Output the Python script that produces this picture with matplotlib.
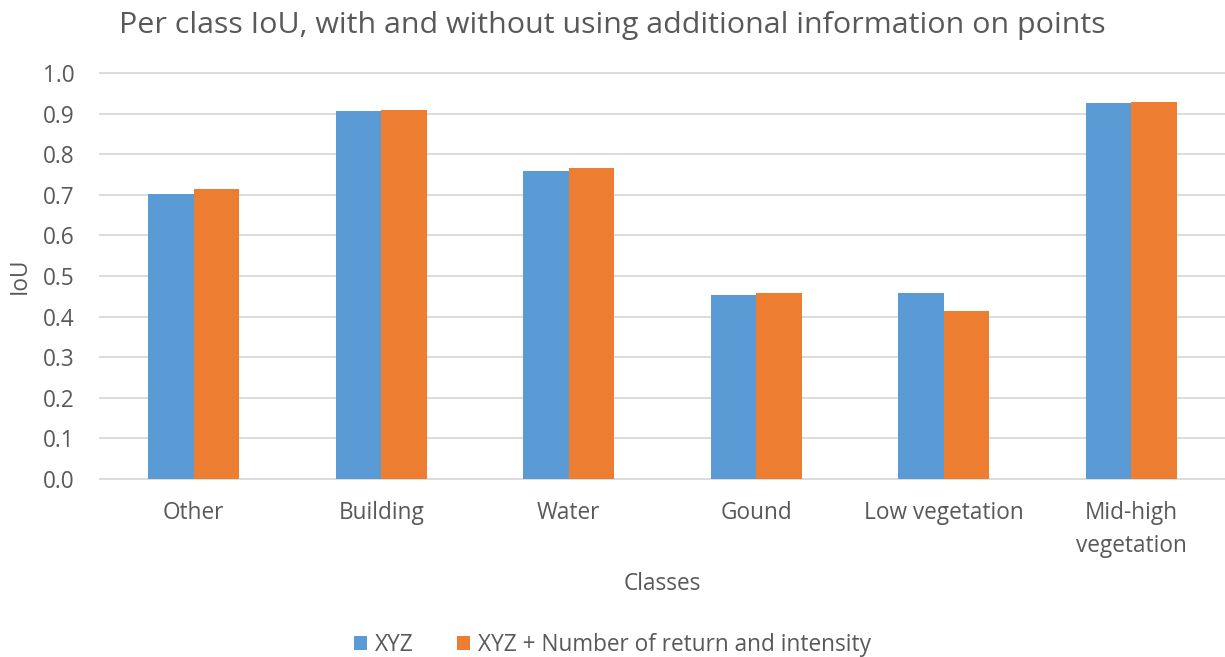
import matplotlib
matplotlib.use("Agg")
import matplotlib.pyplot as plt
import numpy as np
from matplotlib.patches import Patch

classes = ["Other", "Building", "Water", "Gound", "Low vegetation", "Mid-high\nvegetation"]
iou_xyz = [0.701, 0.906, 0.759, 0.453, 0.457, 0.926]
iou_xyz_extra = [0.714, 0.910, 0.767, 0.457, 0.413, 0.929]
series_names = ["XYZ", "XYZ + Number of return and intensity"]
yticks = [0.0, 0.1, 0.2, 0.3, 0.4, 0.5, 0.6, 0.7, 0.8, 0.9, 1.0]

BLUE = "#5b9bd5"
ORANGE = "#ed7d31"
TEXT = "#595959"
GRID = "#d9d9d9"
FS = 16.3

plt.rcParams["font.family"] = ["Open Sans", "DejaVu Sans"]

W, H = 1225, 657
fig = plt.figure(figsize=(W / 100, H / 100), dpi=100)
ax = fig.add_axes([100 / W, (H - 479) / H, 1125 / W, (479 - 73) / H])

x = np.arange(len(classes))
bw = 0.243
ax.bar(x - bw / 2, iou_xyz, width=bw, color=BLUE, zorder=3)
ax.bar(x + bw / 2, iou_xyz_extra, width=bw, color=ORANGE, zorder=3)

ax.set_xlim(-0.5, len(classes) - 0.5)
ax.set_ylim(0, 1.0)
ax.set_yticks(yticks)
ax.set_yticklabels([f"{v:.1f}" for v in yticks])
ax.set_xticks(x)
ax.set_xticklabels(classes, linespacing=1.5)

ax.tick_params(axis="both", length=0, colors=TEXT, labelsize=FS)
ax.tick_params(axis="y", pad=18)
ax.tick_params(axis="x", pad=16)

for v in yticks[1:]:
    ax.axhline(v, color=GRID, lw=1.3, zorder=1, clip_on=False)

for s in ["top", "right", "left"]:
    ax.spines[s].set_visible(False)
ax.spines["bottom"].set_color(GRID)
ax.spines["bottom"].set_linewidth(1.3)

ax.set_ylabel("IoU", color=TEXT, fontsize=FS, labelpad=8)
ax.set_xlabel("Classes", color=TEXT, fontsize=FS, labelpad=10)

fig.text(0.5, 1 - 25 / H, "Per class IoU, with and without using additional information on points",
         ha="center", va="center", color=TEXT, fontsize=21.9)

handles = [Patch(facecolor=BLUE), Patch(facecolor=ORANGE)]
fig.legend(handles, series_names, loc="center", bbox_to_anchor=(0.5, 1 - 645 / H),
           ncol=2, frameon=False, fontsize=FS, labelcolor=TEXT,
           handlelength=0.6, handleheight=0.6, handletextpad=0.35, columnspacing=1.9)

fig.savefig("out.png", dpi=100)
